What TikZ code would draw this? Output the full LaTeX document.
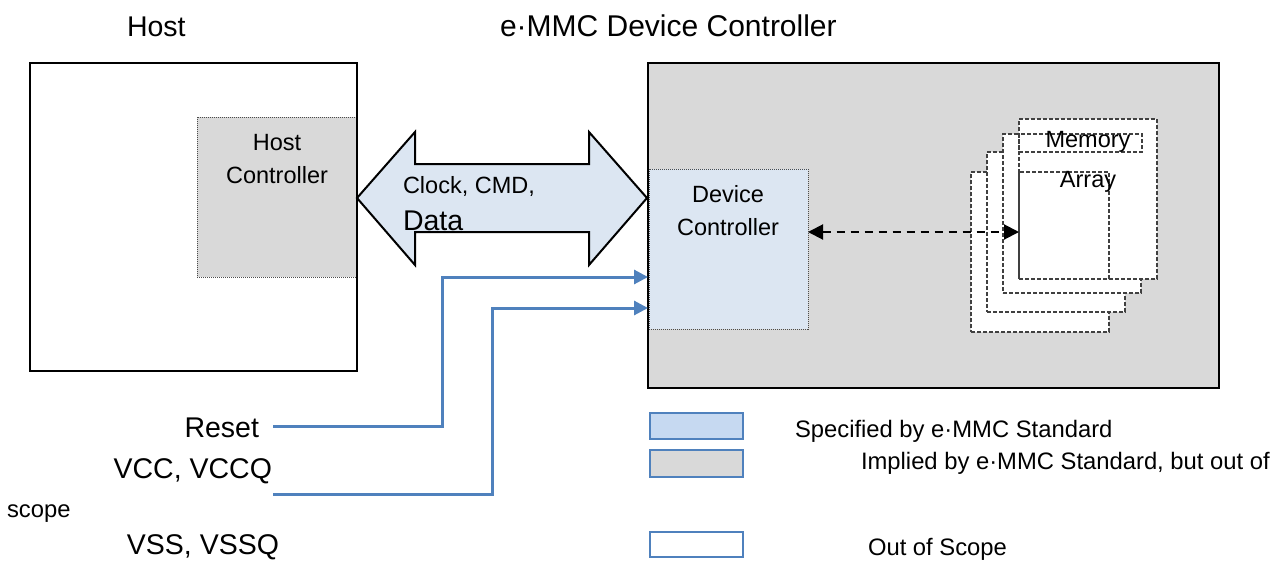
\documentclass[tikz,border=0pt]{standalone}
\usepackage{fontspec}
\setmainfont{Liberation Sans}
\usetikzlibrary{arrows.meta,calc}
\definecolor{grayfill}{HTML}{D9D9D9}
\definecolor{ltblue}{HTML}{DCE6F2}
\definecolor{lgblue}{HTML}{C6D9F1}
\definecolor{lineblue}{HTML}{4F81BD}
\definecolor{dashgray}{HTML}{404040}
\begin{document}
\begin{tikzpicture}[x=1pt,y=-1pt,
  box/.style={draw=black, line width=2pt, inner sep=0pt, outer sep=0pt, anchor=north west},
  dotbox/.style={draw=black!70, line width=0.8pt, dash pattern=on 1pt off 1pt, inner sep=0pt, outer sep=0pt, anchor=north west},
  memrect/.style={draw=dashgray, line width=1.4pt, dash pattern=on 4pt off 2pt, fill=white, inner sep=0pt, outer sep=0pt, anchor=north west},
  memline/.style={draw=dashgray, line width=1.4pt, dash pattern=on 4pt off 2pt, inner sep=0pt, outer sep=0pt, anchor=north west},
  legbox/.style={draw=lineblue, line width=1.6pt, inner sep=0pt, outer sep=0pt, anchor=north west, minimum width=93pt},
  txt/.style={inner sep=0pt, outer sep=0pt},
  big/.style={txt, font=\fontsize{28.5}{33}\selectfont},
  mid/.style={txt, font=\fontsize{23.5}{33}\selectfont},
  leg/.style={txt, font=\fontsize{23.8}{28}\selectfont},
  blueline/.style={draw=lineblue, line width=3pt, -{Triangle[length=14pt,width=14pt]}},
  dasharrow/.style={draw=black, line width=2pt, dash pattern=on 8pt off 6pt, {Triangle[length=15pt,width=15pt]}-{Triangle[length=15pt,width=15pt]}}
]
\useasboundingbox (0,0) rectangle (1282,560);

% titles
\node[big, anchor=base west] (thost) at (127,36) {Host};
\node[txt, font=\fontsize{30}{34}\selectfont, anchor=base west] (tdev) at (500,36) {e·MMC Device Controller};

% host side
\node[box, fill=white, minimum width=327pt, minimum height=308pt] (host) at (30,63) {};
\node[dotbox, fill=grayfill, minimum width=160pt, minimum height=160pt] (hc) at (197,117) {};
\draw[line width=2pt] (host.north west) rectangle (host.south east);
\node[mid, align=center, anchor=base] (hctext) at (277,183) {Host\\Controller};

% device side
\node[box, fill=grayfill, minimum width=571pt, minimum height=325pt] (dev) at (648,63) {};
\node[dotbox, fill=ltblue, minimum width=159pt, minimum height=160pt] (dc) at (649,169) {};
\draw[line width=2pt] (dev.north west) rectangle (dev.south east);
\node[mid, align=center, anchor=base] (dctext) at (728,235) {Device\\Controller};

% big double arrow
\draw[line width=2pt, fill=ltblue, line join=miter]
  (357,198) -- (415,132) -- (415,164) -- (589,164) -- (589,132) -- (647,198)
  -- (589,265) -- (589,232) -- (415,232) -- (415,265) -- cycle;
\node[mid, anchor=base west] (clk) at (403,193) {Clock, CMD,};
\node[big, anchor=base west] (data) at (403,230) {Data};

% memory stack
\node[memrect, minimum width=138pt, minimum height=160pt] (r4) at (971,172) {};
\node[memrect, minimum width=138pt, minimum height=160pt] (r3) at (987,152) {};
\node[memrect, minimum width=138pt, minimum height=159pt] (r2) at (1003,134) {};
\node[memrect, minimum width=138pt, minimum height=160pt] (r1) at (1019,119) {};
\node[memline, minimum width=123pt, minimum height=18pt] (memstrip) at (1019,134) {};
\node[memline, minimum width=90pt, minimum height=107pt] (arrbox) at (1019,172) {};
\node[mid, anchor=base] (memtext) at (1088,147) {Memory};
\node[mid, anchor=base] (arrtext) at (1088,187) {Array};

% dashed double arrow
\coordinate (mend) at (r1.west |- 0,232);
\draw[dasharrow] (dc.east |- mend) -- (mend);

% left labels
\node[big, anchor=base east] (reset) at (259,437) {Reset};
\node[big, anchor=base east] (vcc) at (272,478) {VCC, VCCQ};
\node[leg, anchor=base west] (scope) at (7,517) {scope};
\node[big, anchor=base east] (vss) at (279,554) {VSS, VSSQ};

% blue signal lines
\coordinate (rs) at (273,426);
\coordinate (rk) at (442,277);
\coordinate (vs) at (273,494);
\coordinate (vk) at (492,308);
\draw[blueline] (rs) -| (rk) -- (rk -| dev.west);
\draw[blueline] (vs) -| (vk) -- (vk -| dev.west);

% legend
\node[legbox, fill=lgblue, minimum height=26pt] (lg1) at (650,413) {};
\node[legbox, fill=grayfill, minimum height=27pt] (lg2) at (650,450) {};
\node[legbox, fill=white, minimum height=25pt] (lg3) at (650,532) {};
\node[leg, anchor=base west] (lt1) at (795,437) {Specified by e·MMC Standard};
\node[leg, anchor=base west] (lt2) at (861,469) {Implied by e·MMC Standard, but out of};
\node[leg, anchor=base west] (lt3) at (868,555) {Out of Scope};
\end{tikzpicture}
\end{document}
